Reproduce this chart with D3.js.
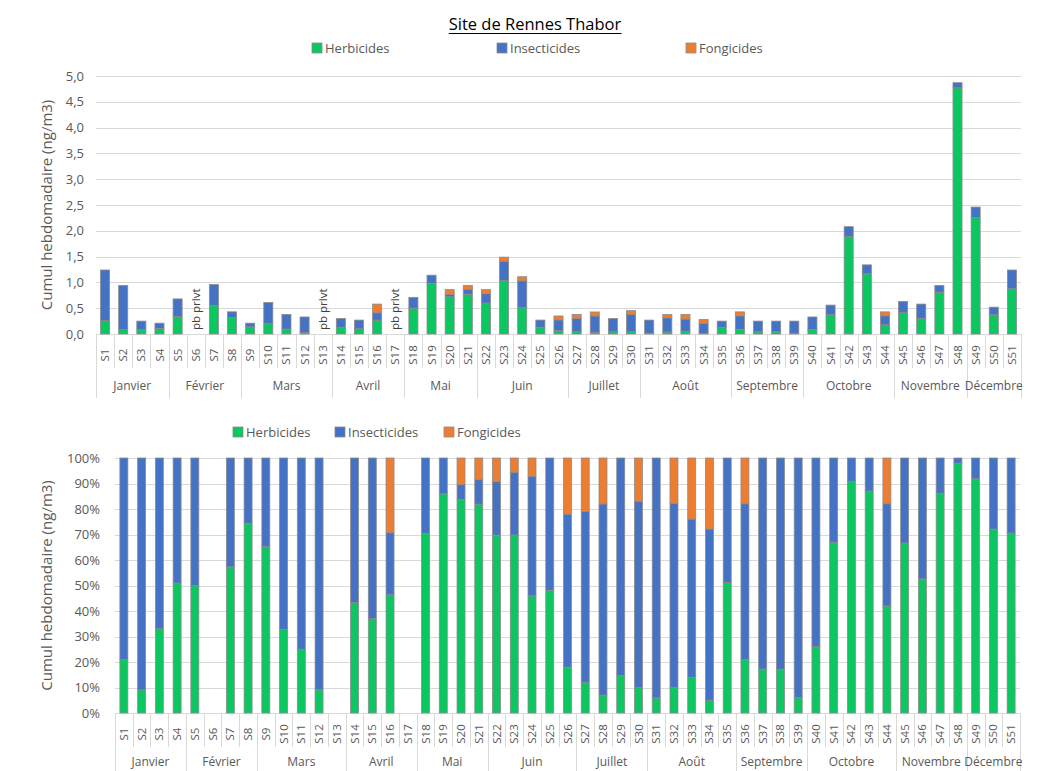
<!DOCTYPE html>
<html>
<head>
<meta charset="utf-8">
<script src="https://cdn.jsdelivr.net/npm/d3@7"></script>
<style>
  body { margin: 0; background: #fff; }
  svg { font-family: "Open Sans", sans-serif; }
  .grid line { stroke: #d9d9d9; stroke-width: 1; }
  .tickLabel { fill: #595959; font-size: 13px; }
  .catLabel { fill: #595959; font-size: 11.5px; }
  .monthLabel { fill: #595959; font-size: 12px; }
  .legendText { fill: #595959; font-size: 13px; }
  .axisTitle { fill: #595959; font-size: 15px; }
  .sep { stroke: #d9d9d9; stroke-width: 1; }
  .seg { stroke: #8c8c8c; stroke-width: 0.8; }
</style>
</head>
<body>
<svg id="chart" width="1058" height="771"></svg>
<script>
// Data (ng/m3), null = pb prlvt
var weeks = ["S1","S2","S3","S4","S5","S6","S7","S8","S9","S10","S11","S12","S13","S14","S15","S16","S17",
             "S18","S19","S20","S21","S22","S23","S24","S25","S26","S27","S28","S29","S30","S31","S32","S33","S34",
             "S35","S36","S37","S38","S39","S40","S41","S42","S43","S44","S45","S46","S47","S48","S49","S50","S51"];
var herbicides = [0.26,0.085,0.083,0.107,0.34,null,0.55,0.32,0.137,0.20,0.095,0.03,null,0.13,0.10,0.27,null,
                  0.50,0.98,0.72,0.77,0.60,1.04,0.51,0.13,0.063,0.046,0.03,0.044,0.045,0.016,0.038,0.053,0.014,
                  0.128,0.09,0.043,0.043,0.015,0.086,0.375,1.89,1.166,0.18,0.42,0.305,0.81,4.77,2.26,0.375,0.875];
var insecticides = [0.98,0.855,0.167,0.103,0.34,null,0.41,0.11,0.073,0.41,0.285,0.30,null,0.17,0.17,0.14,null,
                    0.21,0.16,0.05,0.09,0.18,0.365,0.52,0.14,0.21,0.255,0.32,0.256,0.33,0.254,0.274,0.236,0.188,
                    0.122,0.262,0.207,0.207,0.235,0.244,0.185,0.19,0.174,0.172,0.21,0.275,0.13,0.10,0.20,0.145,0.365];
var fongicides = [0,0,0,0,0,null,0,0,0,0,0,0,null,0,0,0.17,null,
                  0,0,0.09,0.08,0.08,0.085,0.08,0,0.077,0.08,0.077,0,0.077,0,0.068,0.091,0.078,
                  0,0.077,0,0,0,0,0,0,0,0.077,0,0,0,0,0,0,0];
var months = ["Janvier","Février","Mars","Avril","Mai","Juin","Juillet","Août","Septembre","Octobre","Novembre","Décembre"];
var monthWeeks = [4,4,5,4,4,5,4,5,4,5,4,3];
var series = ["Herbicides","Insecticides","Fongicides"];
var colors = ["#0cc662","#4472c4","#ed7d31"];
var ticksTop = [0,0.5,1,1.5,2,2.5,3,3.5,4,4.5,5];
var ticksPct = [0,0.1,0.2,0.3,0.4,0.5,0.6,0.7,0.8,0.9,1];

function init() {
  var svg = d3.select("#chart");

  var dataset = weeks.map(function(w, i) {
    return { week: w, missing: herbicides[i] === null,
             Herbicides: herbicides[i] || 0, Insecticides: insecticides[i] || 0, Fongicides: fongicides[i] || 0 };
  });
  var color = d3.scaleOrdinal().domain(series).range(colors);

  // Title
  var title = svg.append("text")
                 .attr("x", 535).attr("y", 30)
                 .attr("text-anchor", "middle")
                 .style("font-size", "16.5px").style("fill", "#000")
                 .text("Site de Rennes Thabor");
  var bb = title.node().getBBox();
  svg.append("line").attr("x1", bb.x).attr("x2", bb.x + bb.width)
     .attr("y1", 33.5).attr("y2", 33.5).style("stroke", "#000").style("stroke-width", 1.2);

  function legend(xs, y) {
    series.forEach(function(s, i) {
      svg.append("rect").attr("x", xs[i] - 5).attr("y", y - 5).attr("width", 10).attr("height", 10)
         .style("fill", color(s)).style("stroke", "#8c8c8c").style("stroke-width", 0.8);
      svg.append("text").attr("class", "legendText").attr("x", xs[i] + 8).attr("y", y)
         .attr("dy", "0.35em").text(s);
    });
  } // end legend

  function drawChart(opt) {
    var x = d3.scaleBand().domain(weeks).range([opt.x0, opt.x1]).paddingInner(opt.pad).paddingOuter(opt.pad / 2);
    var y = d3.scaleLinear().domain(opt.domain).range([opt.yb, opt.yt]);
    var step = (opt.x1 - opt.x0) / weeks.length;

    // Gridlines + y labels
    var g = svg.append("g").attr("class", "grid");
    g.selectAll("line").data(opt.ticks).enter().append("line")
     .attr("x1", opt.x0).attr("x2", opt.x1)
     .attr("y1", function(d) { return Math.round(y(d)) + 0.5; })
     .attr("y2", function(d) { return Math.round(y(d)) + 0.5; });
    svg.selectAll(null).data(opt.ticks).enter().append("text")
       .attr("class", "tickLabel")
       .attr("x", opt.x0 - opt.labelGap).attr("y", function(d) { return y(d); })
       .attr("dy", "0.35em").attr("text-anchor", "end")
       .text(opt.fmt);

    // Axis title
    svg.append("text").attr("class", "axisTitle")
       .attr("transform", "translate(47," + (opt.yt + opt.yb) / 2 + ") rotate(-90)")
       .attr("text-anchor", "middle").attr("dy", "0.35em")
       .text("Cumul hebdomadaire (ng/m3)");

    // Bars
    var stack = d3.stack().keys(series);
    if (opt.expand) stack.offset(d3.stackOffsetExpand);
    var layers = stack(dataset);
    svg.append("g").selectAll("g").data(layers).enter().append("g")
       .style("fill", function(d) { return color(d.key); })
       .selectAll("rect")
       .data(function(d) { return d.filter(function(e) { return e[1] - e[0] > 0; }); })
       .enter().append("rect")
       .attr("class", "seg")
       .attr("x", function(d) { return x(d.data.week); })
       .attr("width", x.bandwidth())
       .attr("y", function(d) { return y(d[1]); })
       .attr("height", function(d) { return y(d[0]) - y(d[1]); });

    // Category separators
    var bounds = d3.range(weeks.length + 1);
    var monthEdges = [0];
    monthWeeks.forEach(function(n, i) { monthEdges.push(monthEdges[i] + n); });
    svg.append("g").selectAll("line").data(bounds).enter().append("line")
       .attr("class", "sep")
       .attr("x1", function(i) { return Math.round(opt.x0 + i * step) + 0.5; })
       .attr("x2", function(i) { return Math.round(opt.x0 + i * step) + 0.5; })
       .attr("y1", opt.yb)
       .attr("y2", function(i) { return monthEdges.indexOf(i) >= 0 ? opt.yb + opt.longSep : opt.yb + 34; });

    // Week labels
    svg.selectAll(null).data(weeks).enter().append("text")
       .attr("class", "catLabel")
       .attr("transform", function(d) { return "translate(" + (x(d) + x.bandwidth() / 2) + "," + (opt.yb + 21) + ") rotate(-90)"; })
       .attr("text-anchor", "middle").attr("dy", "0.35em")
       .text(function(d) { return d; });

    // Month labels
    svg.selectAll(null).data(months).enter().append("text")
       .attr("class", "monthLabel")
       .attr("x", function(d, i) { return opt.x0 + (monthEdges[i] + monthEdges[i + 1]) / 2 * step; })
       .attr("y", opt.yb + opt.monthOff).attr("dy", "0.35em").attr("text-anchor", "middle")
       .text(function(d) { return d; });

    // Missing sample notes
    if (opt.notes) {
      svg.selectAll(null).data(dataset.filter(function(d) { return d.missing; })).enter().append("text")
         .attr("class", "catLabel").style("fill", "#404040")
         .attr("transform", function(d) { return "translate(" + (x(d.week) + x.bandwidth() / 2) + "," + (opt.yb - 4) + ") rotate(-90)"; })
         .attr("dy", "0.35em")
         .text("pb prlvt");
    }
  } // end drawChart

  legend([317, 502, 691], 48);
  drawChart({ x0: 96, x1: 1021, yb: 334, yt: 76, domain: [0, 5], ticks: ticksTop, pad: 0.5, labelGap: 12,
              fmt: function(d) { return d3.format(".1f")(d).replace(".", ","); },
              expand: false, notes: true, longSep: 64, monthOff: 52 });

  legend([238, 340, 449], 432);
  drawChart({ x0: 115, x1: 1020, yb: 713, yt: 458, domain: [0, 1], ticks: ticksPct, pad: 0.55, labelGap: 15,
              fmt: d3.format(".0%"), expand: true, notes: false, longSep: 58, monthOff: 49 });
} // end init

init();
</script>
</body>
</html>
